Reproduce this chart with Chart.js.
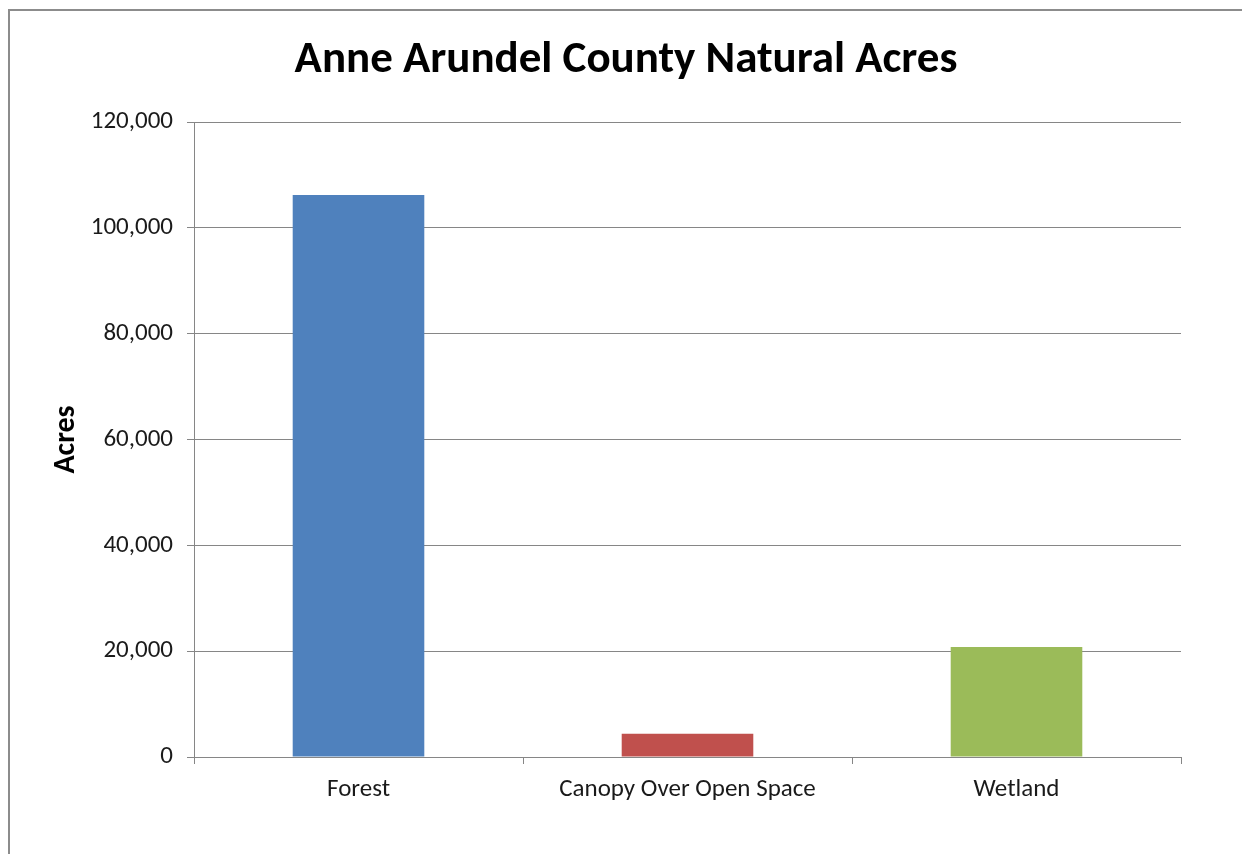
<!DOCTYPE html>
<html>
<head>
<meta charset="utf-8">
<script src="https://cdn.jsdelivr.net/npm/chart.js@4.4.0/dist/chart.umd.min.js"></script>
<style>
    html, body { margin: 0; padding: 0; background: #fff; overflow: hidden; }
    #frame {
        position: absolute; left: 8px; top: 9px; width: 1300px; height: 900px;
        border: 2px solid #8c8c8c; box-sizing: border-box;
    }
    #wrap { position: absolute; left: 0; top: 0; width: 1242px; height: 854px; }
</style>
</head>
<body>
<div id="frame"></div>
<div id="wrap"><canvas id="natChart" width="1242" height="854"></canvas></div>
<script>
const FONT = 'Carlito, Calibri, Lato, sans-serif';

// data
const chartTitle = 'Anne Arundel County Natural Acres';
const categories = ['Forest', 'Canopy Over Open Space', 'Wetland'];
const acres = [106200, 4400, 20800];
const barColors = ['#4F81BD', '#C0504D', '#9BBB59'];
const yTicks = [0, 20000, 40000, 60000, 80000, 100000, 120000];

// title centred on the whole frame, not on the plot area
const frameTitlePlugin = {
    id: 'frameTitle',
    afterDraw(chart) {
        const c = chart.ctx;
        c.save();
        c.font = 'bold 45px ' + FONT;
        c.fillStyle = '#000';
        c.textAlign = 'center';
        c.textBaseline = 'alphabetic';
        c.fillText(chartTitle, 626, 72);
        c.restore();
    },
};

const ctx = document.getElementById('natChart').getContext('2d');

new Chart(ctx, {
    type: 'bar',
    data: {
        labels: categories,
        datasets: [{
            data: acres,
            backgroundColor: barColors,
            borderWidth: 0,
            barPercentage: 0.4,
            categoryPercentage: 1.0,
        }],
    },
    options: {
        responsive: false,
        animation: false,
        layout: { padding: { left: 0, right: 61, top: 122, bottom: 0 } },
        plugins: {
            legend: { display: false },
            tooltip: { enabled: false },
            title: { display: false },
        },
        scales: {
            x: {
                grid: {
                    offset: true,
                    drawOnChartArea: false,
                    drawTicks: true,
                    tickLength: 7,
                    color: '#868686',
                },
                border: { color: '#868686', width: 1 },
                ticks: {
                    color: '#1a1a1a',
                    font: { family: FONT, size: 25 },
                    padding: 11,
                },
                afterFit: (scale) => { scale.height = 97; },
            },
            y: {
                min: 0,
                max: 120000,
                afterBuildTicks: (scale) => {
                    scale.ticks = yTicks.map((v) => ({ value: v }));
                },
                grid: {
                    color: '#868686',
                    tickLength: 7,
                },
                border: { color: '#868686', width: 1 },
                ticks: {
                    color: '#1a1a1a',
                    font: { family: FONT, size: 25 },
                    padding: 14,
                    callback: (v) => v.toLocaleString('en-US'),
                },
                title: {
                    display: true,
                    text: 'Acres',
                    color: '#000',
                    font: { family: FONT, size: 30, weight: 'bold' },
                    padding: { top: 48, bottom: 0 },
                },
                afterFit: (scale) => { scale.width = 194; },
            },
        },
    },
    plugins: [frameTitlePlugin],
});
</script>
</body>
</html>
